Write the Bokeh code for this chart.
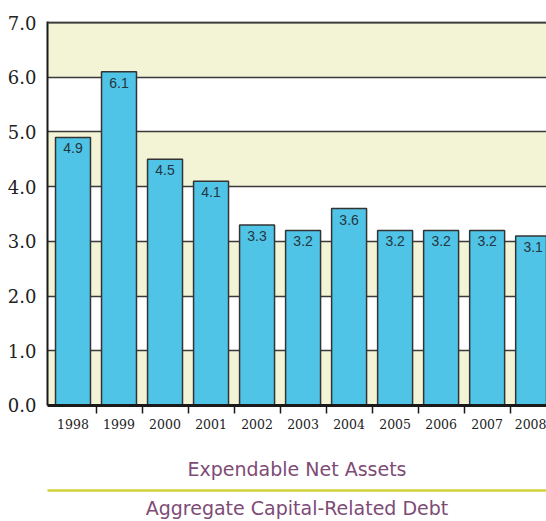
from bokeh.plotting import figure
from bokeh.models import Range1d, FixedTicker, LinearAxis, ColumnDataSource, Span
from bokeh.core.properties import value
from bokeh.embed import file_html
from bokeh.resources import INLINE

years = ["1998", "1999", "2000", "2001", "2002", "2003", "2004", "2005", "2006", "2007", "2008"]
ratios = [4.9, 6.1, 4.5, 4.1, 3.3, 3.2, 3.6, 3.2, 3.2, 3.2, 3.1]
y_ticks = [0, 1, 2, 3, 4, 5, 6, 7]
y_labels = ["0.0", "1.0", "2.0", "3.0", "4.0", "5.0", "6.0", "7.0"]
label_top = "Expendable Net Assets"
label_bottom = "Aggregate Capital-Related Debt"

idx = list(range(len(years)))
src = ColumnDataSource(dict(x=idx, top=ratios, txt=[f"{v:.1f}" for v in ratios]))

eps = 0.001
p = figure(width=546, height=521, output_backend="svg", toolbar_location=None,
           x_range=Range1d(-0.554, 10.29), y_range=Range1d(-eps, 7 + 0.02),
           min_border_left=47, min_border_right=0, min_border_top=21, min_border_bottom=0,
           x_axis_location=None, y_axis_location=None)
p.outline_line_color = None
p.background_fill_color = "white"

# grid with alternating bands (extra tick at range start shifts the band parity)
p.xgrid.grid_line_color = None
p.ygrid.ticker = FixedTicker(ticks=[-eps] + y_ticks)
p.ygrid.grid_line_color = "#3a3a3a"
p.ygrid.grid_line_width = 1.5
p.ygrid.band_fill_color = "#f3f3d6"
p.ygrid.band_fill_alpha = 1.0

# top rule at the last tick
p.add_layout(Span(location=y_ticks[-1], dimension="width", line_color="#3a3a3a", line_width=2))

p.vbar(x="x", top="top", bottom=0, width=0.76, source=src,
       fill_color="#4fc4e7", line_color="#333333", line_width=1.5)
p.text(x="x", y="top", text="txt", source=src, text_align="center", text_baseline="top",
       y_offset=6, text_font=value("Liberation Sans"), text_font_size="14px", text_color="#263640")

# y axis
yax = LinearAxis(ticker=FixedTicker(ticks=y_ticks),
                 major_label_overrides={t: l for t, l in zip(y_ticks, y_labels)})
yax.major_tick_line_color = None
yax.minor_tick_line_color = None
yax.axis_line_color = "#1a1a1a"
yax.axis_line_width = 2
yax.major_label_standoff = 5
yax.major_label_text_font = "DejaVu Serif"
yax.major_label_text_font_size = "18px"
yax.major_label_text_color = "#222222"
p.add_layout(yax, "left")

# x axis: labels at bar centers, tick marks between bars
bounds = [i + 0.5 for i in idx]
xax = LinearAxis(ticker=FixedTicker(ticks=idx, minor_ticks=bounds),
                 major_label_overrides={i: y for i, y in zip(idx, years)})
xax.major_tick_line_color = None
xax.major_tick_out = 0
xax.major_tick_in = 0
xax.minor_tick_in = 0
xax.minor_tick_out = 8
xax.minor_tick_line_color = "#1a1a1a"
xax.minor_tick_line_width = 1.5
xax.axis_line_color = "#1a1a1a"
xax.axis_line_width = 3
xax.major_label_standoff = 5
xax.major_label_text_font = "DejaVu Serif"
xax.major_label_text_font_size = "12.5px"
xax.major_label_text_color = "#222222"
xax.axis_label = label_top
xax.axis_label_standoff = 26
xax.axis_label_text_font = "DejaVu Sans"
xax.axis_label_text_font_style = "normal"
xax.axis_label_text_font_size = "19px"
xax.axis_label_text_color = "#7d4b76"
p.add_layout(xax, "below")

# spacer between the label and the rule
spacer = LinearAxis(ticker=FixedTicker(ticks=[]))
spacer.axis_line_color = None
spacer.major_tick_line_color = None
spacer.minor_tick_line_color = None
spacer.major_label_text_font_size = "0px"
spacer.axis_label = " "
spacer.axis_label_text_font_size = "1px"
spacer.axis_label_standoff = 4
p.add_layout(spacer, "below")

# second axis: yellow rule and bottom label
ax2 = LinearAxis(ticker=FixedTicker(ticks=[]))
ax2.major_tick_line_color = None
ax2.minor_tick_line_color = None
ax2.major_label_text_font_size = "0px"
ax2.axis_line_color = "#d4d03c"
ax2.axis_line_width = 2.5
ax2.axis_label = label_bottom
ax2.axis_label_standoff = 6
ax2.axis_label_text_font = "DejaVu Sans"
ax2.axis_label_text_font_style = "normal"
ax2.axis_label_text_font_size = "19px"
ax2.axis_label_text_color = "#7d4b76"
p.add_layout(ax2, "below")

open("out.html", "w").write(file_html(p, INLINE))
